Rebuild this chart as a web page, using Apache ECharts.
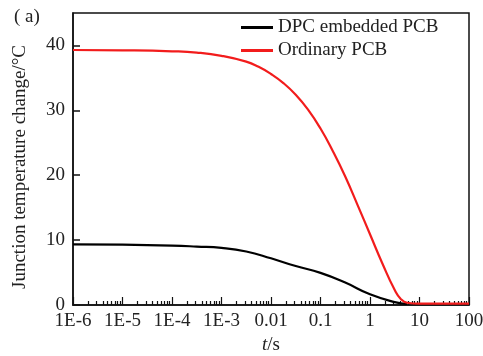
<!DOCTYPE html>
<html>
<head>
<meta charset="utf-8">
<script src="https://cdn.jsdelivr.net/npm/echarts@6/dist/echarts.min.js"></script>
<style>html,body{margin:0;padding:0;background:#fff;}#c{width:483px;height:356px;}</style>
</head>
<body>
<div id="c"></div>
<script>
// Data
var seriesNames = ['DPC embedded PCB', 'Ordinary PCB'];
var blackT = [1e-6, 1e-5, 1e-4, 3.16e-4, 1e-3, 3.16e-3, 0.01, 0.0316, 0.1, 0.316, 1, 3.16, 5.62];
var blackY = [9.35, 9.3, 9.15, 9.0, 8.8, 8.25, 7.2, 6.0, 4.95, 3.45, 1.65, 0.45, 0.15];
var redT = [1e-6, 1e-5, 1e-4, 3.16e-4, 1e-3, 3.16e-3, 5.62e-3, 0.01, 0.0178, 0.0316, 0.056, 0.1, 0.178, 0.316, 0.562, 1, 1.78, 3.16, 4.22, 5.62, 10, 100];
var redY = [39.3, 39.25, 39.1, 38.9, 38.4, 37.5, 36.7, 35.6, 34.2, 32.4, 30.1, 27.2, 23.7, 19.8, 15.4, 10.9, 6.4, 2.3, 0.9, 0.35, 0.2, 0.2];
var xTickValues = [1e-6, 1e-5, 1e-4, 1e-3, 0.01, 0.1, 1, 10, 100];
var xTickLabels = ['1E-6', '1E-5', '1E-4', '1E-3', '0.01', '0.1', '1', '10', '100'];
var yTickLabels = ['0', '10', '20', '30', '40'];

var minorValues = [];
for (var d = -6; d <= 1; d++) {
  for (var k = 2; k <= 9; k++) minorValues.push(k * Math.pow(10, d));
}
function pairs(xs, ys) { return xs.map(function (x, i) { return [x, ys[i]]; }); }

var FONT = 'Liberation Serif';
var chart = echarts.init(document.getElementById('c'), null, {renderer: 'canvas'});
chart.setOption({
  animation: false,
  backgroundColor: '#fff',
  textStyle: {fontFamily: FONT},
  title: {text: '( a)', left: 9, top: 3, textStyle: {fontFamily: FONT, fontSize: 19, fontWeight: 'normal', color: '#222'}},
  grid: {left: 73, right: 14, top: 13, bottom: 51, outerBoundsMode: 'none', containLabel: false,
    show: true, borderColor: '#111', borderWidth: 1.5, backgroundColor: 'transparent'},
  legend: {
    orient: 'vertical', left: 236, top: 13, itemGap: 4, itemWidth: 32, itemHeight: 3, icon: 'rect',
    textStyle: {fontFamily: FONT, fontSize: 19, color: '#222'},
    data: seriesNames
  },
  xAxis: [{
    type: 'log', logBase: 10, min: 1e-6, max: 100, position: 'bottom',
    name: '{i|t}/s', nameLocation: 'middle', nameGap: 29,
    nameTextStyle: {fontFamily: FONT, fontSize: 19, color: '#222', rich: {i: {fontStyle: 'italic', fontFamily: FONT, fontSize: 19, color: '#222'}}},
    axisLine: {lineStyle: {color: '#111', width: 1.5}},
    axisTick: {inside: true, length: 8, customValues: xTickValues, lineStyle: {color: '#111', width: 1.2}},
    axisLabel: {customValues: xTickValues, fontFamily: FONT, fontSize: 19, color: '#222', margin: 7,
      formatter: function (v) { var e = Math.round(Math.log10(v)); return xTickLabels[e + 6]; }},
    splitLine: {show: false}
  }, {
    type: 'log', logBase: 10, min: 1e-6, max: 100, position: 'bottom',
    axisLine: {show: false},
    axisTick: {inside: true, length: 4, customValues: minorValues, lineStyle: {color: '#111', width: 1.2}},
    axisLabel: {show: false},
    splitLine: {show: false}
  }],
  yAxis: {
    type: 'value', min: 0, max: 45, interval: 10,
    name: 'Junction temperature change/°C', nameLocation: 'middle', nameGap: 43,
    nameTextStyle: {fontFamily: FONT, fontSize: 19, color: '#222', padding: [0, 16, 0, 0]},
    axisLine: {lineStyle: {color: '#111', width: 1.5}},
    axisTick: {inside: true, length: 7, lineStyle: {color: '#111', width: 1.5}},
    axisLabel: {fontFamily: FONT, fontSize: 19, color: '#222', margin: 8, showMaxLabel: false,
      formatter: function (v) { return v % 10 === 0 ? yTickLabels[v / 10] : ''; }},
    splitLine: {show: false}
  },
  series: [{
    name: seriesNames[0], type: 'line', smooth: 0.5, showSymbol: false, xAxisIndex: 0,
    lineStyle: {color: '#000', width: 2.2}, itemStyle: {color: '#000'}, z: 2,
    data: pairs(blackT, blackY)
  }, {
    name: seriesNames[1], type: 'line', smooth: 0.5, showSymbol: false, xAxisIndex: 0,
    lineStyle: {color: '#f21c1c', width: 2.2}, itemStyle: {color: '#f21c1c'}, z: 3,
    data: pairs(redT, redY)
  }]
});
</script>
</body>
</html>
